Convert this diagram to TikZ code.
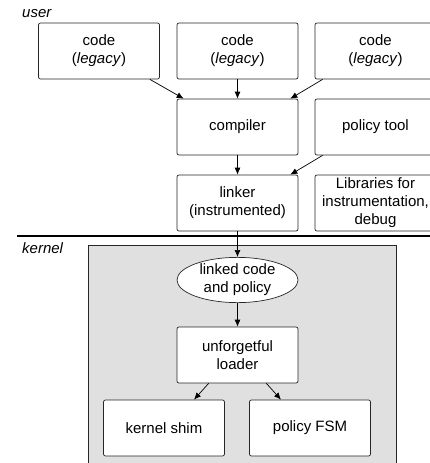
\documentclass[tikz,border=0pt]{standalone}
\usepackage{fontspec}
\setmainfont{Liberation Sans}
\usetikzlibrary{shapes.geometric,arrows.meta}
\definecolor{kgray}{HTML}{E0E0E0}
\tikzset{
  box/.style={draw=black!85, line width=0.7pt, rounded corners=2pt, fill=white,
    minimum width=121pt, minimum height=56pt, inner sep=1pt, align=center,
    font=\fontsize{15}{18}\selectfont},
  blob/.style={draw=black!85, line width=0.7pt, ellipse, fill=white,
    minimum width=121pt, minimum height=36pt, inner sep=0pt, align=center,
    font=\fontsize{15}{18}\selectfont},
  arr/.style={line width=0.7pt, -{Latex[length=7pt,width=6pt]}},
  lbl/.style={font=\fontsize{15}{18}\selectfont\itshape, anchor=base west, inner sep=0pt}
}
\begin{document}
\begin{tikzpicture}[x=1pt,y=-1pt]
\useasboundingbox (0,0) rectangle (430,463);
\clip (0,0) rectangle (430,463);
% kernel region
\fill[kgray] (88,245) rectangle (396,470);
\draw[line width=0.7pt, draw=black!85] (88,470) -- (88,245) -- (396,245) -- (396,470);
% separator
\draw[line width=1.6pt] (17,236) -- (440,236);
% labels
\node[lbl] (user) at (22,17) {user};
\node[lbl] (kern) at (22,253) {kernel};
% user boxes
\node[box] (c1) at (99,51) {code\\(\textit{legacy})};
\node[box] (c2) at (237.5,51) {code\\(\textit{legacy})};
\node[box] (c3) at (375.5,51) {code\\(\textit{legacy})};
\node[box] (comp) at (237.5,127) {compiler};
\node[box] (ptool) at (375.5,127) {policy tool};
\node[box] (link) at (237.5,203) {linker\\(instrumented)};
\node[box] (libs) at (375.5,203) {Libraries for\\instrumentation,\\debug};
% kernel boxes
\node[blob] (lc) at (237.5,280) {linked code\\and policy};
\node[box] (load) at (237.5,355) {unforgetful\\loader};
\node[box] (shim) at (164,428) {kernel shim};
\node[box] (fsm) at (310,428) {policy FSM};
% arrows
\draw[arr] ([xshift=-10pt]c1.south east) -- ([xshift=7pt]comp.north west);
\draw[arr] (c2) -- (comp);
\draw[arr] ([xshift=8pt]c3.south west) -- ([xshift=-8pt]comp.north east);
\draw[arr] (comp) -- (link);
\draw[arr] ([xshift=8pt]ptool.south west) -- ([xshift=-8pt]link.north east);
\draw[arr] (link) -- (lc);
\draw[arr] (lc) -- (load);
\draw[arr] ([xshift=32pt]load.south west) -- ([xshift=30pt]shim.north);
\draw[arr] ([xshift=-32pt]load.south east) -- ([xshift=-29pt]fsm.north);
\end{tikzpicture}
\end{document}
